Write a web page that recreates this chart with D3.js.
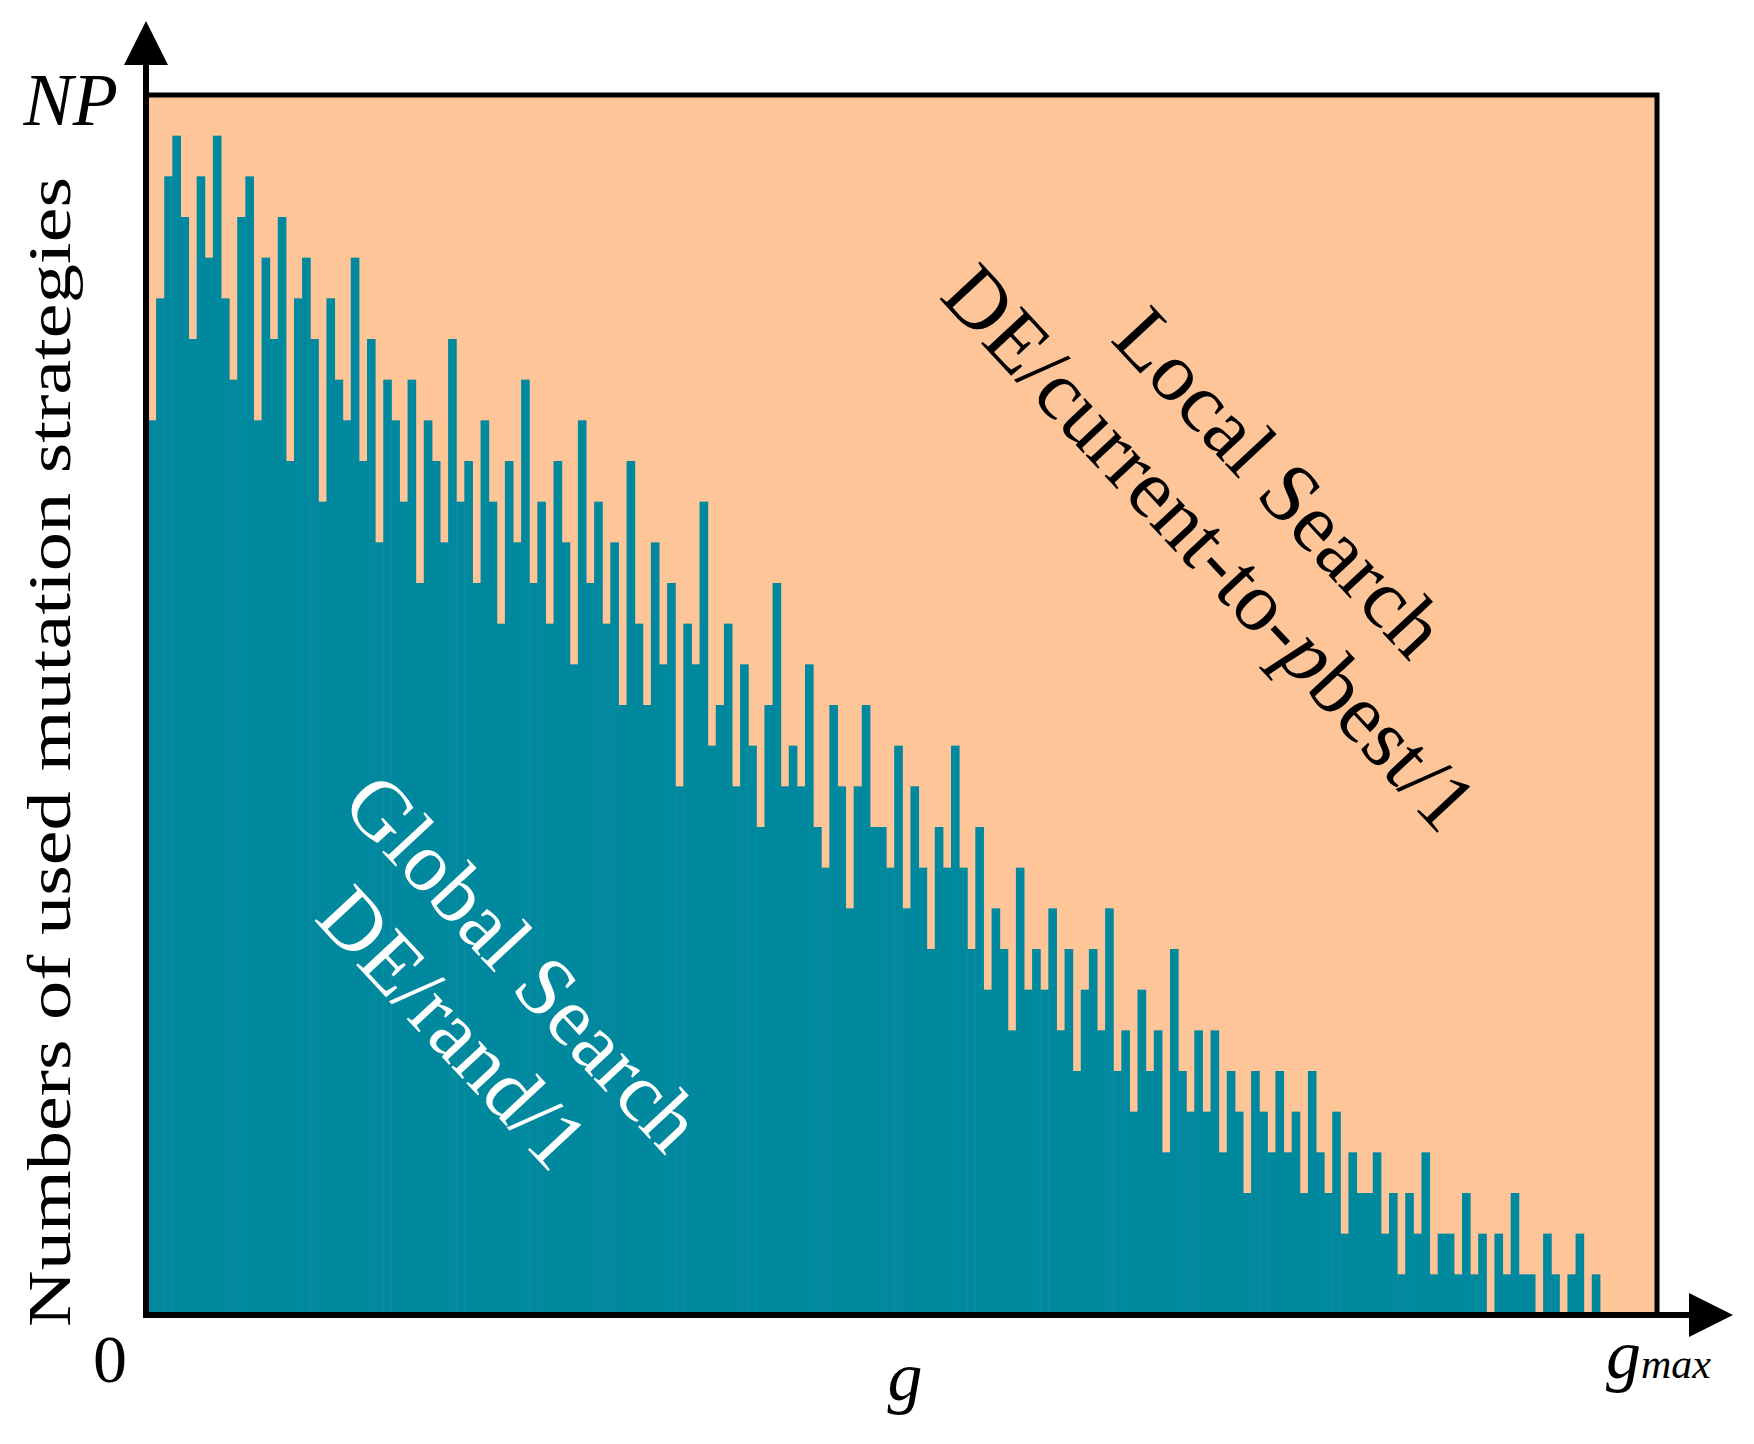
<!DOCTYPE html>
<html><head><meta charset="utf-8">
<script src="https://cdn.jsdelivr.net/npm/d3@7"></script>
<style>body{margin:0;background:#fff}</style></head>
<body><svg id="c" width="1754" height="1444"></svg>
<script>
const NP = 30;
const generationValues = [
22,25,28,29,27,24,28,26,29,25,
23,27,28,22,26,24,27,21,25,26,
24,20,25,23,22,26,21,24,19,23,
22,20,23,18,22,21,19,24,20,21,
18,22,20,17,21,19,23,18,20,17,
21,19,16,22,18,20,17,19,15,21,
17,15,19,16,18,13,17,16,20,14,
15,17,13,16,14,12,15,18,13,14,
13,16,12,11,15,13,10,13,15,12,
12,11,14,10,13,11,9,12,11,14,
11,9,12,8,10,9,7,11,8,9,
8,10,7,9,6,8,9,7,10,6,
7,5,8,6,7,4,9,6,5,7,
5,7,4,6,5,3,6,5,4,6,
4,5,3,6,4,3,5,2,4,3,
3,4,2,3,1,3,2,4,1,2,
2,1,3,1,2,0,2,1,3,1,
1,0,2,1,0,1,2,0,1,0];
const localLabels = ["Local Search", "DE/current-to-"];
const globalLabels = ["Global Search", "DE/rand/1"];
const yLabel = "Numbers of used mutation strategies";

const svg = d3.select("#c");
const L = 146, R = 1657, T = 95, B = 1315;
const teal = "#00889e", peach = "#fdc598";
const x = d3.scaleBand().domain(d3.range(generationValues.length)).range([L+2, 1608]).padding(0);
const y = d3.scaleLinear().domain([0, NP]).range([B, T]);
const serif = "'Liberation Serif','DejaVu Serif',serif";

svg.append("rect").attr("x", L).attr("y", T).attr("width", R-L).attr("height", B-T).attr("fill", peach);
svg.append("g").selectAll("rect").data(generationValues).join("rect")
  .attr("x", (d,i)=>x(i)).attr("width", x.bandwidth()+0.5)
  .attr("y", d=>y(d)).attr("height", d=>B-y(d)).attr("fill", teal);
svg.append("path").attr("d",`M${L},${T}H${R}V${B}`).attr("fill","none").attr("stroke","#000").attr("stroke-width",5);
svg.append("line").attr("x1",L).attr("x2",L).attr("y1",B+2).attr("y2",55).attr("stroke","#000").attr("stroke-width",6);
svg.append("line").attr("x1",L-3).attr("x2",1700).attr("y1",B).attr("y2",B).attr("stroke","#000").attr("stroke-width",6);
svg.append("path").attr("d",`M${L},21L${L-22},65L${L+22},65Z`).attr("fill","#000");
svg.append("path").attr("d",`M1733,${B}L1689,${B-22}L1689,${B+22}Z`).attr("fill","#000");

svg.append("text").attr("x",118).attr("y",125).attr("text-anchor","end").attr("font-family",serif).attr("font-style","italic").attr("font-size",74).text("NP");
svg.append("text").attr("x",110).attr("y",1382).attr("text-anchor","middle").attr("font-family",serif).attr("font-size",68).text("0");
svg.append("text").attr("x",905).attr("y",1400).attr("text-anchor","middle").attr("font-family",serif).attr("font-style","italic").attr("font-size",70).text("g");
const gm = svg.append("text").attr("x",1606).attr("y",1378).attr("font-family",serif).attr("font-style","italic");
gm.append("tspan").attr("font-size",70).text("g");
gm.append("tspan").attr("font-size",42).text("max");
svg.append("text").attr("transform","translate(70,752) rotate(-90)").attr("text-anchor","middle")
  .attr("font-family",serif).attr("font-size",62).attr("textLength",1150).attr("lengthAdjust","spacingAndGlyphs").text(yLabel);

const ang = 47;
function label(cx, cy, lines, color, gap) {
  const g = svg.append("g").attr("transform",`translate(${cx},${cy}) rotate(${ang})`);
  lines.forEach((t,i)=>{
    const tx = g.append("text").attr("x",0).attr("y",(i-(lines.length-1)/2)*gap+28).attr("text-anchor","middle")
      .attr("font-family",serif).attr("font-size",84).attr("fill",color);
    if (typeof t === "string") tx.text(t); else t(tx);
  });
}
label(1245, 515, [localLabels[0], tx=>{tx.append("tspan").text(localLabels[1]);tx.append("tspan").attr("font-style","italic").text("p");tx.append("tspan").text("best/1");}], "#000", 96);
label(488, 995, globalLabels, "#fff", 96);
</script></body></html>
